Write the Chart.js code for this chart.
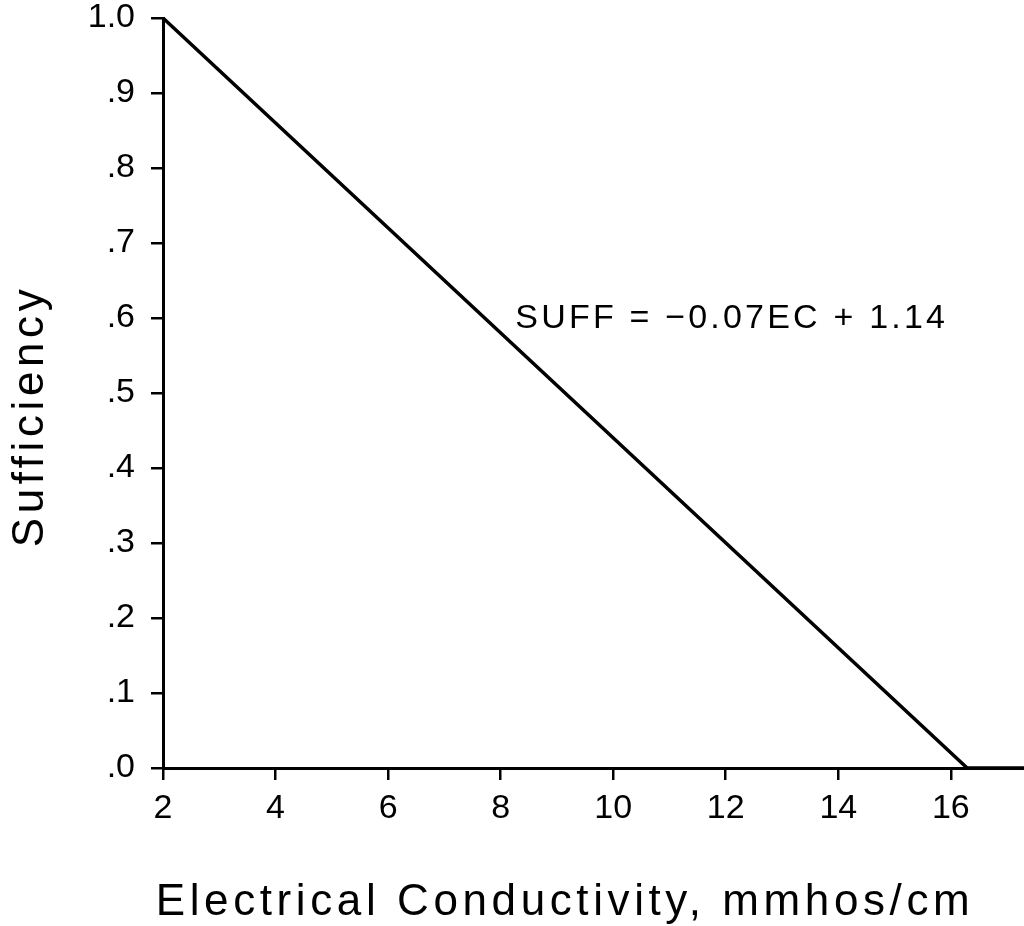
<!DOCTYPE html>
<html>
<head>
<meta charset="utf-8">
<script src="https://cdn.jsdelivr.net/npm/chart.js@4/dist/chart.umd.min.js"></script>
<style>
  html, body { margin: 0; padding: 0; background: #fff; }
  #wrap { width: 1024px; height: 926px; }
</style>
</head>
<body>
<div id="wrap"><canvas id="chart"></canvas></div>
<script>
// values
const ecValues = [2, 16.29, 17.3];
const suffValues = [1.0, 0, 0];
const xTicks = [2, 4, 6, 8, 10, 12, 14, 16];
const yTickLabels = [".0", ".1", ".2", ".3", ".4", ".5", ".6", ".7", ".8", ".9", "1.0"];
const equationText = "SUFF = \u22120.07EC + 1.14";
const equationAt = { x: 8.26, y: 0.587 };
const xTitle = "Electrical Conductivity, mmhos/cm";
const yTitle = "Sufficiency";

const FONT = "'Liberation Sans', Arial, Helvetica, sans-serif";

const textPlugin = {
  id: "texts",
  afterDraw(chart) {
    const ctx = chart.ctx;
    const xs = chart.scales.x;
    const ys = chart.scales.y;
    ctx.save();
    ctx.fillStyle = "#000";

    // equation label
    ctx.font = "34px " + FONT;
    ctx.letterSpacing = "3.2px";
    ctx.textAlign = "left";
    ctx.textBaseline = "alphabetic";
    ctx.fillText(equationText, xs.getPixelForValue(equationAt.x), ys.getPixelForValue(equationAt.y));

    // axis titles
    ctx.font = "44px " + FONT;
    ctx.letterSpacing = "4.6px";
    ctx.textAlign = "center";
    ctx.fillText(xTitle, 565, 915);

    ctx.translate(43, 416);
    ctx.rotate(-Math.PI / 2);
    ctx.fillText(yTitle, 0, 0);
    ctx.restore();
  },
};

new Chart(document.getElementById("chart"), {
  type: "scatter",
  data: {
    datasets: [{
      data: ecValues.map((x, i) => ({ x, y: suffValues[i] })),
      showLine: true,
      borderColor: "#000",
      borderWidth: 3.5,
      pointRadius: 0,
      fill: false,
      clip: false,
    }],
  },
  options: {
    responsive: true,
    maintainAspectRatio: false,
    animation: false,
    layout: { padding: 0 },
    plugins: { legend: { display: false }, tooltip: { enabled: false } },
    scales: {
      x: {
        type: "linear",
        min: 2,
        max: 17.3,
        afterFit: (s) => { s.height = 158; s.paddingRight = 0; },
        afterBuildTicks: (s) => { s.ticks = xTicks.map((v) => ({ value: v })); },
        border: { display: true, color: "#000", width: 3 },
        grid: { drawOnChartArea: false, drawTicks: true, tickLength: 12, color: "#000", lineWidth: 2.5 },
        ticks: {
          color: "#000",
          font: { family: FONT, size: 34 },
          padding: 8,
          maxRotation: 0,
          callback: (v) => String(v),
        },
      },
      y: {
        type: "linear",
        min: 0,
        max: 1,
        afterFit: (s) => { s.width = 163; s.paddingTop = 18; s.paddingBottom = 0; },
        afterBuildTicks: (s) => { s.ticks = yTickLabels.map((_, i) => ({ value: i / 10 })); },
        border: { display: true, color: "#000", width: 3 },
        grid: { drawOnChartArea: false, drawTicks: true, tickLength: 12, color: "#000", lineWidth: 2.5 },
        ticks: {
          color: "#000",
          font: { family: FONT, size: 34 },
          padding: 16,
          callback: (v, i) => yTickLabels[i],
        },
      },
    },
  },
  plugins: [textPlugin],
});
</script>
</body>
</html>
